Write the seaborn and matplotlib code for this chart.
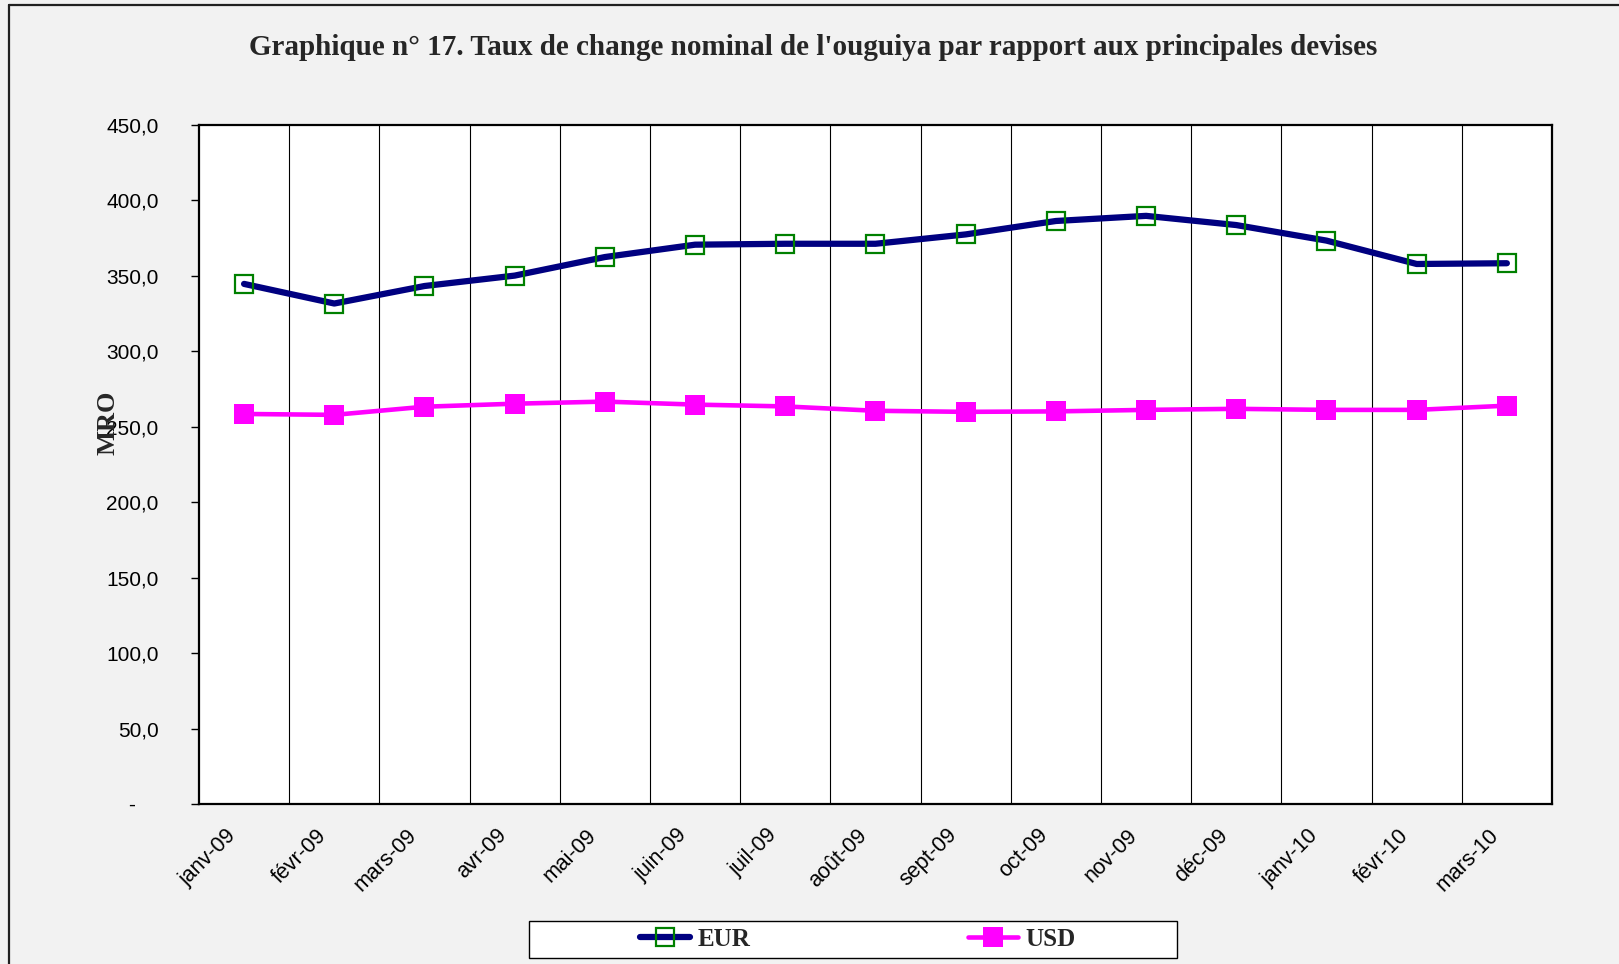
import numpy as np
import pandas as pd
import matplotlib
matplotlib.use("Agg")
import matplotlib.pyplot as plt
import matplotlib.transforms as mtransforms
from matplotlib.patches import Rectangle
from matplotlib.lines import Line2D
import seaborn as sns

# ── Data ──────────────────────────────────────
months = ["janv-09", "févr-09", "mars-09", "avr-09", "mai-09", "juin-09",
          "juil-09", "août-09", "sept-09", "oct-09", "nov-09", "déc-09",
          "janv-10", "févr-10", "mars-10"]
eur = [344.7, 331.7, 343.3, 350.2, 362.5, 370.7, 371.3, 371.3, 377.5,
       386.4, 389.8, 383.7, 373.4, 357.9, 358.4]
usd = [258.5, 257.9, 263.3, 265.3, 266.7, 264.7, 263.5, 260.6, 259.9,
       260.2, 261.2, 261.9, 261.2, 261.2, 264.0]
yticks = [0, 50, 100, 150, 200, 250, 300, 350, 400, 450]

df = pd.DataFrame({"idx": np.arange(len(months)), "EUR": eur, "USD": usd})

BG = "#f2f2f2"
NAVY = "#000080"
GREEN = "#008000"
MAGENTA = "#ff00ff"
SERIF = ["Liberation Serif", "DejaVu Serif"]

sns.set_theme(style="white")
plt.rcParams["font.family"] = ["Liberation Sans", "DejaVu Sans"]

fig = plt.figure(figsize=(16.19, 9.64), dpi=100, facecolor=BG)
ax = fig.add_axes([0.1229, 0.1660, 0.8357, 0.7043])
ax.set_facecolor("white")

# ── Lines ─────────────────────────────────────
sns.lineplot(data=df, x="idx", y="EUR", ax=ax, color=NAVY, linewidth=4.5,
             marker="s", markersize=13.5, markerfacecolor="none",
             markeredgecolor=GREEN, markeredgewidth=1.6, zorder=4)
sns.lineplot(data=df, x="idx", y="USD", ax=ax, color=MAGENTA, linewidth=3.3,
             marker="s", markersize=14.5, markerfacecolor=MAGENTA,
             markeredgecolor=MAGENTA, markeredgewidth=0, zorder=4)

# ── Axes ──────────────────────────────────────
n = len(months)
ax.set_xlim(-0.5, n - 0.5)
ax.set_ylim(0, 450)
ax.set_xlabel("")
ax.set_ylabel("")

ax.set_yticks(yticks)
ax.set_yticklabels(["-    " if v == 0 else f"{v:.1f}".replace(".", ",") for v in yticks])

ax.set_xticks(np.arange(n))
ax.set_xticklabels(months, rotation=45, ha="right")
ax.set_xticks(np.arange(n + 1) - 0.5, minor=True)
ax.tick_params(axis="x", which="major", length=0, pad=15, labelsize=15.5, colors="black")
ax.tick_params(axis="x", which="minor", length=6, width=1, color="black", direction="out")
ax.tick_params(axis="y", length=6, width=1, color="black", direction="out",
               left=True, pad=23, labelsize=15, labelcolor="black")
offset = mtransforms.ScaledTranslation(-4 / 100, 0, fig.dpi_scale_trans)
for lab in ax.get_xticklabels():
    lab.set_transform(lab.get_transform() + offset)

ax.grid(False)
for x in np.arange(1, n) - 0.5:
    ax.axvline(x, color="black", linewidth=0.8, zorder=1)

for sp in ax.spines.values():
    sp.set_visible(True)
    sp.set_color("black")
    sp.set_linewidth(1.6)

# ── Texts ─────────────────────────────────────
fig.text(0.5025, 0.9507,
         "Graphique n° 17. Taux de change nominal de l'ouguiya par rapport aux principales devises",
         ha="center", va="center", fontsize=21, fontweight="bold", family=SERIF)
fig.text(0.0665, 0.561, "MRO", rotation=90, ha="center", va="center",
         fontsize=19, fontweight="bold", family=SERIF)

# ── Legend ────────────────────────────────────
fig.patches.append(Rectangle((529 / 1619, 1 - 958 / 964), 648 / 1619, 37 / 964,
                             transform=fig.transFigure, facecolor="white",
                             edgecolor="black", linewidth=1.0, zorder=0))
handles = [
    Line2D([], [], color=NAVY, linewidth=4.5, marker="s", markersize=13.5,
           markerfacecolor="none", markeredgecolor=GREEN, markeredgewidth=1.6),
    Line2D([], [], color=MAGENTA, linewidth=3.3, marker="s", markersize=14.5,
           markerfacecolor=MAGENTA, markeredgewidth=0),
]
fig.legend(handles, ["EUR", "USD"], loc="center", bbox_to_anchor=(0.530, 0.0254),
           ncol=2, frameon=False, handlelength=2.0, handletextpad=0.3,
           columnspacing=8.7, prop={"family": "Liberation Serif", "weight": "bold", "size": 18})

# ── Outer frame ───────────────────────────────
fig.add_artist(Line2D([9 / 1619, 1.0], [1 - 5 / 964, 1 - 5 / 964],
                      transform=fig.transFigure, color="#202020", linewidth=1.6))
fig.add_artist(Line2D([9 / 1619, 9 / 1619], [0.0, 1 - 5 / 964],
                      transform=fig.transFigure, color="#202020", linewidth=1.6))

fig.savefig("out.png", dpi=100, facecolor=BG)
